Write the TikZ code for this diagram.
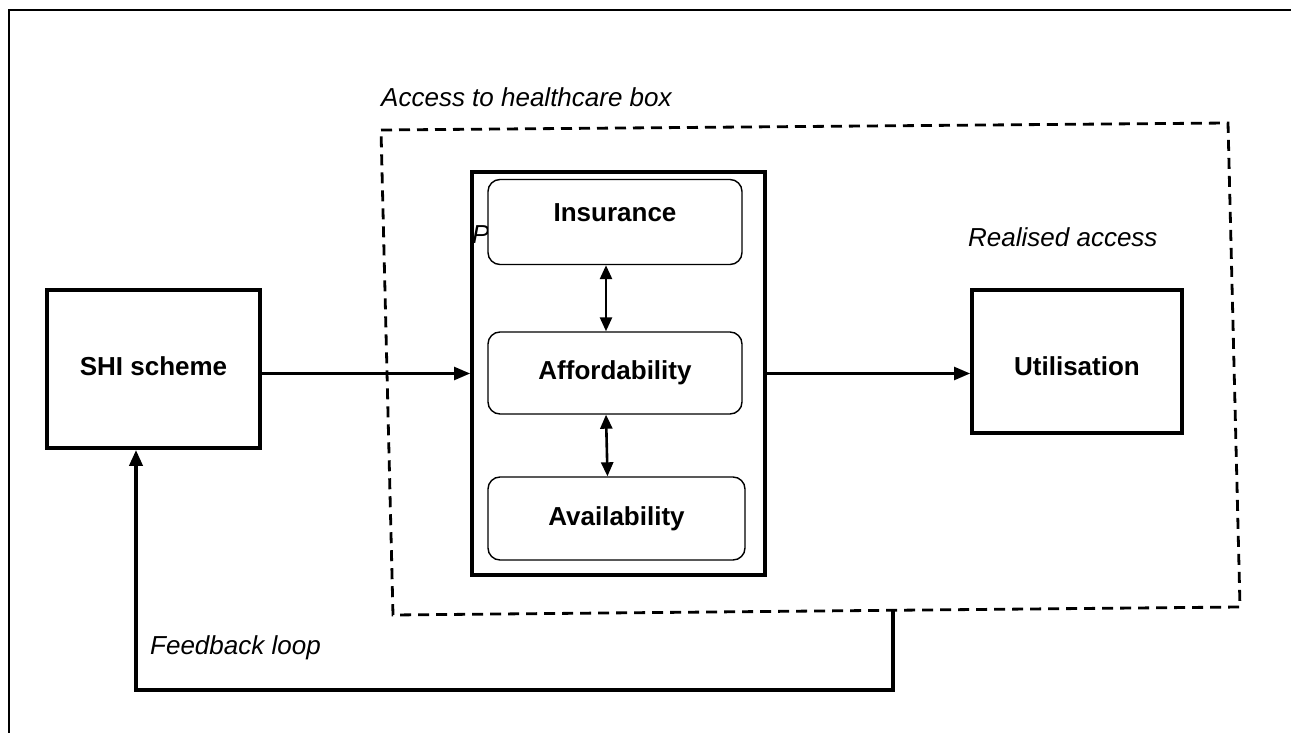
\documentclass[tikz,border=0pt]{standalone}
\usepackage{fontspec}
\setmainfont{Liberation Sans}
\usetikzlibrary{arrows.meta}
\begin{document}
\begin{tikzpicture}[x=1pt,y=-1pt,
  bfont/.style={font=\fontsize{26}{30}\selectfont\bfseries},
  thickbox/.style={draw,line width=3.8pt,bfont,inner sep=0pt},
  rbox/.style={draw,line width=1.4pt,rounded corners=12pt,fill=white,bfont,inner sep=0pt},
  lab/.style={font=\fontsize{26}{30}\selectfont\itshape,inner sep=0pt},
  arr/.style={line width=2.4pt,-{Triangle[length=16pt,width=13pt]}},
  darr/.style={line width=2.6pt,{Triangle[length=14pt,width=12pt]}-{Triangle[length=14pt,width=12pt]}},
  dashbox/.style={line width=2.8pt,dash pattern=on 11pt off 7pt},
  fbline/.style={line width=3.8pt,-{Triangle[length=16pt,width=13pt]}}
]
\useasboundingbox (0,0) rectangle (1291,733);
% outer frame
\draw[line width=2pt] (9,733) -- (9,10) -- (1291,10);
% dashed access box
\coordinate (dTL) at (381,130);
\coordinate (dTR) at (1228,123);
\coordinate (dBR) at (1240,607);
\coordinate (dBL) at (393,615);
\draw[dashbox] (dTL) -- (dTR) -- (dBR) -- (dBL) -- cycle;
\node[lab,anchor=west] (acc) at (381,97) {Access to healthcare box};
\node[lab,anchor=west] (real) at (968,237) {Realised access};
\node[lab,anchor=west] (fbl) at (150,648) {Feedback loop};
% boxes
\node[thickbox,minimum width=213pt,minimum height=158pt,text depth=6pt] (shi) at (153.5,369) {SHI scheme};
\node[thickbox,minimum width=293pt,minimum height=403pt] (access) at (618.5,373.5) {};
\node[lab,anchor=west] (p) at (472,235) {P};
\node[rbox,minimum width=254pt,minimum height=85pt,text depth=18pt] (ins) at (615,222) {Insurance};
\node[rbox,minimum width=254pt,minimum height=82pt] (aff) at (615,373) {Affordability};
\node[rbox,minimum width=257pt,minimum height=83pt] (ava) at (616.5,518.5) {Availability};
\node[thickbox,minimum width=210pt,minimum height=143pt,text height=28pt] (util) at (1077,361.5) {Utilisation};
% connectors
\draw[arr] (shi.east |- access.west) -- (access.west);
\draw[arr] (access.east) -- (util.west |- access.east);
\draw[darr] ([xshift=-9pt]ins.south) -- ([xshift=-9pt]aff.north);
\draw[darr] ([xshift=-9pt]aff.south) -- ([xshift=-9pt]ava.north);
% feedback loop
\coordinate (fb) at (893,611);
\coordinate (fbc) at (136,690);
\draw[fbline] (fb) |- (fbc) -- (fbc |- shi.south);
\end{tikzpicture}
\end{document}
